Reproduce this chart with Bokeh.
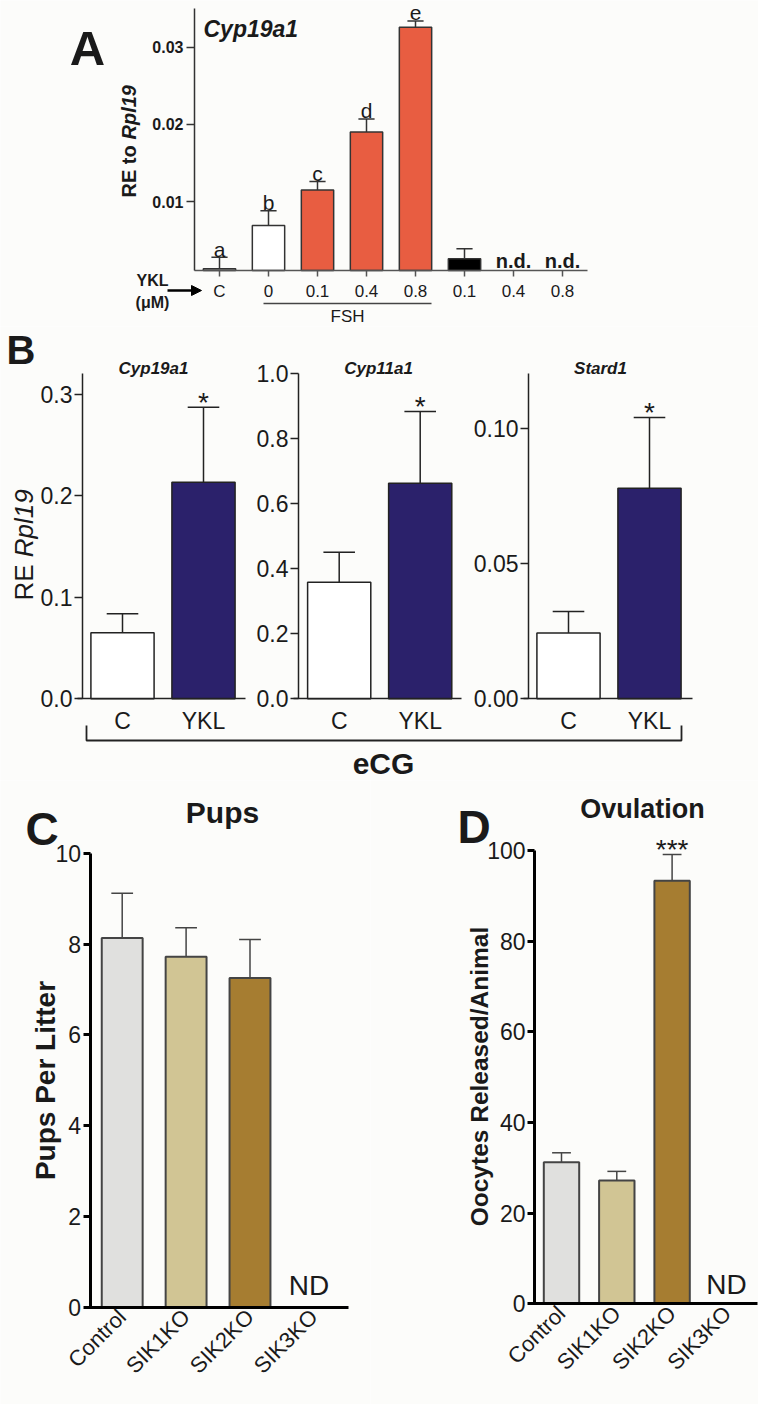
import math
from bokeh.plotting import figure
from bokeh.layouts import column, row
from bokeh.models import (Range1d, Label, Arrow, NormalHead, FixedTicker, LinearAxis,
                          PrintfTickFormatter, ColumnDataSource)
from bokeh.core.properties import value
from bokeh.embed import file_html
from bokeh.resources import INLINE

# ---------------- data ----------------
a_labels = ["C", "0", "0.1", "0.4", "0.8", "0.1", "0.4", "0.8"]
a_values = [0.0013, 0.0069, 0.0115, 0.0190, 0.0326, 0.0026, None, None]
a_errors = [0.0015, 0.0019, 0.0011, 0.0017, 0.0008, 0.0013, None, None]
a_letters = ["a", "b", "c", "d", "e", "", "n.d.", "n.d."]
a_colors = ["#F4F4F2", "#FFFFFF", "#E85D41", "#E85D41", "#E85D41", "#000000", None, None]
a_ticks = [0.01, 0.02, 0.03]

b_groups = ["C", "YKL"]
b_genes = ["Cyp19a1", "Cyp11a1", "Stard1"]
b_values = {"Cyp19a1": [0.065, 0.2134], "Cyp11a1": [0.359, 0.663], "Stard1": [0.0244, 0.078]}
b_errors = {"Cyp19a1": [0.0187, 0.0739], "Cyp11a1": [0.092, 0.221], "Stard1": [0.0079, 0.0262]}
b_marks = ["", "*"]
b_colors = ["#FFFFFF", "#2B216B"]
b_ticks = {"Cyp19a1": [0.0, 0.1, 0.2, 0.3], "Cyp11a1": [0.0, 0.2, 0.4, 0.6, 0.8, 1.0],
           "Stard1": [0.0, 0.05, 0.10]}

cd_groups = ["Control", "SIK1KO", "SIK2KO", "SIK3KO"]
c_values = [8.13, 7.72, 7.25, None]
c_errors = [0.99, 0.64, 0.85, None]
c_marks = ["", "", "", "ND"]
d_values = [31.2, 27.2, 93.3, None]
d_errors = [2.1, 2.0, 5.8, None]
d_marks = ["", "", "***", "ND"]
cd_colors = ["#E0E0DE", "#D1C594", "#A67D31", None]
c_ticks = [0, 2, 4, 6, 8, 10]
d_ticks = [0, 20, 40, 60, 80, 100]

# ---------------- helpers ----------------
BG = "#FCFCFA"
FONT = "Liberation Sans"
INK = "#1A1A1A"


def make_panel(fx, fy, w, h, x0, xs, y0, ys):
    """Figure whose frame fills the whole canvas; X/Y map page pixels to data."""
    def X(px):
        return (px - x0) / xs

    def Y(py):
        return (y0 - py) / ys
    p = figure(width=w, height=h, x_range=Range1d(X(fx), X(fx + w)),
               y_range=Range1d(Y(fy + h), Y(fy)), output_backend="svg",
               toolbar_location=None, title=None, x_axis_location=None, y_axis_location=None,
               min_border=0, min_border_left=0, min_border_right=0, min_border_top=0,
               min_border_bottom=0, background_fill_color=BG, border_fill_color=BG,
               outline_line_color=None)
    p.grid.visible = False
    return p, X, Y


def add_axis(p, side, loc, bounds, size, bold=False, lw=1.5, color="#222222", tick_out=7,
             standoff=3, ticks=None, overrides=None, fmt=None, orientation=None, rn=None):
    ax = LinearAxis(fixed_location=loc, bounds=bounds)
    if rn is not None:
        ax.y_range_name = rn
    ax.axis_line_width = lw
    ax.axis_line_color = color
    ax.major_tick_line_color = color if tick_out > 0 else None
    ax.major_tick_line_width = lw
    ax.major_tick_out = tick_out
    ax.major_tick_in = 0
    ax.minor_tick_line_color = None
    ax.major_label_standoff = standoff
    ax.major_label_text_font = FONT
    ax.major_label_text_font_size = f"{size}px"
    ax.major_label_text_font_style = "bold" if bold else "normal"
    ax.major_label_text_color = INK
    if ticks is not None:
        ax.ticker = FixedTicker(ticks=ticks)
    if overrides is not None:
        ax.major_label_overrides = overrides
    if fmt is not None:
        ax.formatter = PrintfTickFormatter(format=fmt)
    if orientation is not None:
        ax.major_label_orientation = orientation
    p.add_layout(ax, side)
    return ax


def lab(p, x, y, text, size, style="normal", align="center", baseline="middle",
        angle=0.0, color=INK):
    p.add_layout(Label(x=x, y=y, text=text, text_font=FONT, text_font_size=f"{size}px",
                       text_font_style=style, text_align=align, text_baseline=baseline,
                       angle=angle, text_color=color))


def rule(p, xs, ys, lw=1.5, color="#222222"):
    p.line(x=xs, y=ys, line_width=lw, line_color=color)


def draw_bars(p, vals, errs, colors, base, width, capw, line_color, line_width, err_lw,
              xoff=0.0, rn="default"):
    idx = [i for i, v in enumerate(vals) if v is not None]
    xs = [xoff + i for i in idx]
    src = ColumnDataSource(dict(
        x=xs, top=[vals[i] for i in idx], etop=[vals[i] + errs[i] for i in idx],
        cl=[x - capw / 2 for x in xs], cr=[x + capw / 2 for x in xs],
        color=[colors[i] for i in idx]))
    p.segment(x0="x", y0="top", x1="x", y1="etop", source=src,
              line_color=line_color, line_width=err_lw, y_range_name=rn)
    p.segment(x0="cl", y0="etop", x1="cr", y1="etop", source=src,
              line_color=line_color, line_width=err_lw, y_range_name=rn)
    p.vbar(x="x", top="top", bottom=base, width=width, source=src,
           fill_color="color", line_color=line_color, line_width=line_width, y_range_name=rn)


def draw_marks(p, vals, errs, marks, base, sizes, styles, off_bar, off_nd, xoff_nd=0,
               xoff=0.0, rn="default"):
    xb, yb, tb, xn, yn, tn = [], [], [], [], [], []
    for i, m in enumerate(marks):
        if not m:
            continue
        if vals[i] is None:
            xn.append(xoff + i); yn.append(base); tn.append(m)
        else:
            xb.append(xoff + i); yb.append(vals[i] + errs[i]); tb.append(m)
    if tb:
        p.text(x=xb, y=yb, text=tb, text_font=value(FONT), text_font_size=f"{sizes[0]}px",
               text_font_style=styles[0], text_align="center", text_baseline="middle",
               y_offset=off_bar, text_color=INK, y_range_name=rn)
    if tn:
        p.text(x=xn, y=yn, text=tn, text_font=value(FONT), text_font_size=f"{sizes[1]}px",
               text_font_style=styles[1], text_align="center", text_baseline="middle",
               y_offset=off_nd, x_offset=xoff_nd, text_color=INK, y_range_name=rn)


# ---------------- Panel A ----------------
pa, XA, YA = make_panel(0, 0, 758, 326, 219, 49.0, 278.3, 7720.0)
baseA = YA(270)
add_axis(pa, "left", XA(194), (baseA, YA(8)), 16, bold=True, color="#333333", tick_out=8,
         standoff=3, ticks=a_ticks)
add_axis(pa, "below", baseA, (XA(194), XA(587)), 17, color="#555555", tick_out=6, standoff=5,
         ticks=list(range(len(a_labels))), overrides={i: t for i, t in enumerate(a_labels)})
draw_bars(pa, a_values, a_errors, a_colors, baseA, 0.66, 0.33, "#333333", 1.5, 1.5)
draw_marks(pa, a_values, a_errors, a_letters, baseA, (21, 20), ("normal", "bold"), -8, -10)
lab(pa, XA(87), YA(47), "A", 49, "bold")
lab(pa, XA(203), YA(28), "Cyp19a1", 23, "bold italic", align="left")
lab(pa, XA(128), YA(197), "RE to ", 20, "bold", align="left", angle=math.pi / 2)
lab(pa, XA(128), YA(139), "Rpl19", 20, "bold italic", align="left", angle=math.pi / 2)
lab(pa, XA(152), YA(280), "YKL", 16, "bold")
lab(pa, XA(152), YA(302), "(\u03bcM)", 16, "bold")
pa.add_layout(Arrow(end=NormalHead(size=10, fill_color="black", line_color="black"),
                    x_start=XA(167), y_start=YA(290), x_end=XA(201), y_end=YA(290),
                    line_width=2.5, line_color="black"))
rule(pa, [XA(263), XA(431)], [YA(303), YA(303)], 1.5, "#444444")
lab(pa, XA(347), YA(316), "FSH", 17)

# ---------------- Panel B (three sub-plots in one canvas, one y-range each) ----------------
B_TOP, B_H, B_ZERO, B_X0, B_XS = 326, 454, 698.3, 122.0, 81.0
pb, XB, YB = make_panel(0, B_TOP, 758, B_H, B_X0, B_XS, B_ZERO, 1015.0)
# per gene: (page x of first bar, px per 1.0 on y, y-axis x, x-axis from, x-axis to, format,
#            title x)
b_geom = {
    "Cyp19a1": (122.0, 1015.0, 82, 77, 245, "%.1f", 153),
    "Cyp11a1": (338.7, 325.0, 298, 293, 461, "%.1f", 378),
    "Stard1": (568.0, 2700.0, 528, 523, 692, "%.2f", 600),
}
for gene in b_genes:
    gx, ys, yax, xa0, xa1, fmt, tx = b_geom[gene]
    rn = "default" if gene == b_genes[0] else gene
    if rn != "default":
        pb.extra_y_ranges[rn] = Range1d((B_ZERO - (B_TOP + B_H)) / ys, (B_ZERO - B_TOP) / ys)
    xoff = XB(gx)
    add_axis(pb, "left", XB(yax), (0, (B_ZERO - 373) / ys), 23, color="#222222", tick_out=8,
             standoff=2, ticks=b_ticks[gene], fmt=fmt, rn=rn)
    ticks = [xoff + i for i in range(len(b_groups))]
    add_axis(pb, "below", 0, (XB(xa0), XB(xa1)), 23, color="#222222", tick_out=0, standoff=9,
             ticks=ticks, overrides={t: g for t, g in zip(ticks, b_groups)})
    draw_bars(pb, b_values[gene], b_errors[gene], b_colors, 0, 0.78, 0.39, "#222222", 1.5,
              1.5, xoff=xoff, rn=rn)
    draw_marks(pb, b_values[gene], b_errors[gene], b_marks, 0, (28, 28),
               ("normal", "normal"), -5, 0, xoff=xoff, rn=rn)
    lab(pb, XB(tx), YB(368), gene, 17, "bold italic")

lab(pb, XB(6), YB(349), "B", 40, "bold", align="left")
lab(pb, XB(23), YB(600), "RE ", 26, "normal", align="left", angle=math.pi / 2)
lab(pb, XB(23), YB(556.7), "Rpl19", 26, "italic", align="left", angle=math.pi / 2)
rule(pb, [XB(86), XB(86), XB(681), XB(681)], [YB(725), YB(740), YB(740), YB(725)], 1.8)
lab(pb, XB(383), YB(763), "eCG", 30, "bold")


# ---------------- Panels C and D ----------------
def cd_panel(fx, fw, x0, xs, y0, ys, yax, xa0, xa1, ytop, vals, errs, marks, ticks,
             ylabel, ylsize, ylx, yly, title, tx, ty, tsize, letter, lx, ly, nd_off, nd_xoff):
    p, X, Y = make_panel(fx, 780, fw, 624, x0, xs, y0, ys)
    add_axis(p, "left", X(yax), (0, ytop), 23, color="#000000", lw=3, tick_out=7,
             standoff=2, ticks=ticks)
    add_axis(p, "below", 0, (X(xa0), X(xa1)), 22, color="#000000", lw=3, tick_out=0,
             standoff=6, ticks=list(range(len(cd_groups))),
             overrides={i: g for i, g in enumerate(cd_groups)}, orientation=math.pi / 4)
    draw_bars(p, vals, errs, cd_colors, 0, 0.64, 0.34, "#444444", 2, 1.5)
    draw_marks(p, vals, errs, marks, 0, (28, 28), ("normal", "normal"), -5, nd_off, nd_xoff)
    lab(p, X(ylx), Y(yly), ylabel, ylsize, "bold", angle=math.pi / 2)
    lab(p, X(tx), Y(ty), title, tsize, "bold")
    lab(p, X(lx), Y(ly), letter, 46, "bold")
    return p


pc = cd_panel(0, 370, 121.7, 63.9, 1306.7, 45.4, 89.5, 85, 348, 10, c_values, c_errors,
              c_marks, c_ticks, "Pups Per Litter", 28, 45, 1080, "Pups", 222, 812, 30,
              "C", 41.5, 828, -22, -5)
pd_ = cd_panel(370, 388, 561.0, 55.3, 1303.3, 4.535, 534, 528, 757, 100, d_values, d_errors,
               d_marks, d_ticks, "Oocytes Released/Animal", 24.5, 479, 1076, "Ovulation",
               642, 808, 27, "D", 473.5, 826.5, -19, -1)

layout = column(pa, pb, row(pc, pd_))
layout.spacing = 0

with open("out.html", "w") as fh:
    fh.write(file_html(layout, INLINE, title="Figure"))
